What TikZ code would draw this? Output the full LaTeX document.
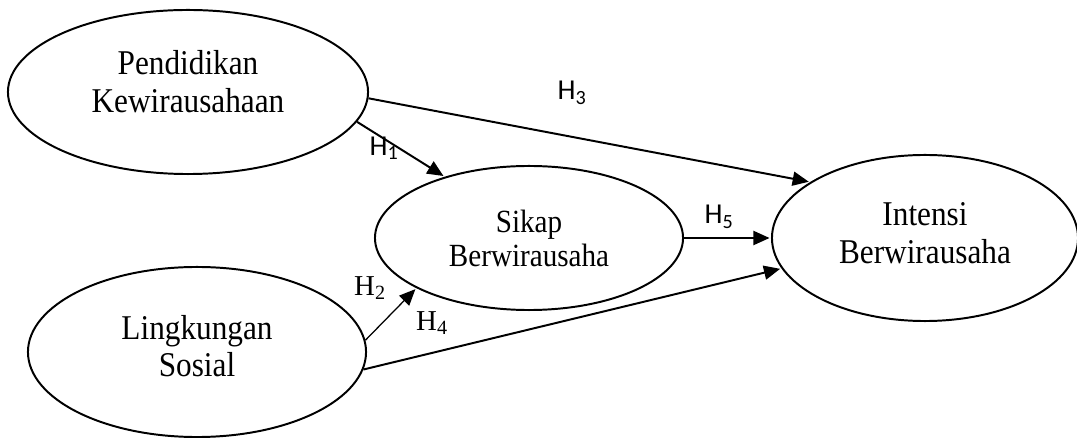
\documentclass[tikz,border=0pt]{standalone}
\usepackage{fontspec}
\setmainfont[FakeStretch=0.9]{Liberation Serif}
\newfontfamily\plainserif{Liberation Serif}
\newfontfamily\hfont{Carlito}
\usetikzlibrary{shapes.geometric,arrows.meta}

\begin{document}
\begin{tikzpicture}[x=0.025cm, y=-0.025cm,
  every node/.style={font=\fontsize{24.7}{27.5}\selectfont},
  construct/.style={draw, ellipse, line width=1.4pt, inner sep=0pt, align=center},
  path/.style={line width=1.4pt, -{Triangle[length=11.5pt,width=10pt]}, shorten >=1pt},
  hlabel/.style={font=\fontsize{20.5}{22}\hfont},
  slabel/.style={font=\fontsize{20.5}{22}\plainserif}]
  \useasboundingbox (0,0) rectangle (1077,438);
  \begin{scope}
  \clip (0,0) rectangle (1077,438);
  \node[construct, minimum width=9cm, minimum height=4.1cm, text depth=15pt] (pend) at (188,92) {Pendidikan\\Kewirausahaan};
  \node[construct, minimum width=7.7cm, minimum height=3.6cm,
    font=\fontsize{23}{24.2}\selectfont] (sikap) at (529,238) {Sikap\\Berwirausaha};
  \node[construct, minimum width=7.65cm, minimum height=4.15cm, text depth=7pt,
    font=\fontsize{24.7}{27}\selectfont] (intensi) at (925,238) {Intensi\\Berwirausaha};
  \node[construct, minimum width=8.45cm, minimum height=4.25cm, text depth=8.5pt,
    font=\fontsize{24.7}{26.8}\selectfont] (ling) at (197,352) {Lingkungan\\Sosial};
  \end{scope}

  % paths
  \draw[path] (pend.-2.6) -- (intensi.154);
  \draw[path] (pend.-10.2) -- (sikap.144.7);
  \draw[path] (sikap.0) -- (intensi.180);
  \draw[path, line width=0.9pt] (ling.4.9) -- (sikap.-156.4);
  \draw[path] (ling.-6.1) -- (intensi.-168);

  % hypothesis labels
  \node[hlabel] (h3) at (572,93) {H\textsubscript{3}};
  \node[hlabel] (h1) at (384,148) {H\textsubscript{1}};
  \node[hlabel] (h5) at (719,217) {H\textsubscript{5}};
  \node[slabel] (h2) at (370,288) {H\textsubscript{2}};
  \node[slabel] (h4) at (432,323) {H\textsubscript{4}};
\end{tikzpicture}
\end{document}
